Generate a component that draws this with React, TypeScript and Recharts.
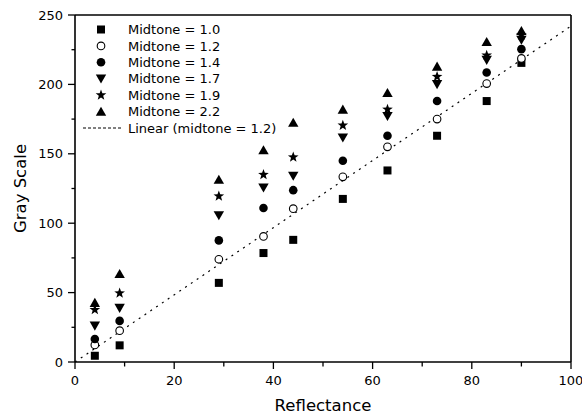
import React from "react"
import { ScatterChart, Scatter, XAxis, YAxis, Legend } from "recharts"

const FONT = "DejaVu Sans, sans-serif"

const reflectance = [4, 9, 29, 38, 44, 54, 63, 73, 83, 90]
const midtone10 = [4.5, 12, 57, 78.5, 88, 117.5, 138, 163, 188, 215.5]
const midtone12 = [12.3, 22.6, 74, 90.5, 110.5, 133.4, 155, 175, 200.6, 218.7]
const midtone14 = [16.6, 29.6, 87.6, 111, 123.8, 145, 163, 188, 208.6, 225.4]
const midtone17 = [26, 38.8, 105.5, 125.5, 134, 161.6, 177, 200, 217.5, 232]
const midtone19 = [37.6, 49.6, 119.5, 135, 147.6, 170.5, 182, 205.6, 221, 235.5]
const midtone22 = [42.8, 63.6, 131.5, 152.7, 172.5, 182, 194, 213, 230.7, 238.7]

const linearX = [0, 100]
const linearY = [0, 242]

const xTicks = [0, 10, 20, 30, 40, 50, 60, 70, 80, 90, 100]
const yTicks = [0, 25, 50, 75, 100, 125, 150, 175, 200, 225, 250]

const toPoints = (ys: number[]) => reflectance.map((x, i) => ({ x, y: ys[i] }))
const linearData = linearX.map((x, i) => ({ x, y: linearY[i] }))

// marker shapes
const Square = ({ cx, cy }: any) => <rect x={cx - 4} y={cy - 4} width={8} height={8} fill="#000" />
const OpenCircle = ({ cx, cy }: any) => (
  <circle cx={cx} cy={cy} r={3.8} fill="#fff" stroke="#000" strokeWidth={1.1} />
)
const Dot = ({ cx, cy }: any) => <circle cx={cx} cy={cy} r={4.3} fill="#000" />
const DownTri = ({ cx, cy }: any) => (
  <polygon points={`${cx - 5.2},${cy - 4.3} ${cx + 5.2},${cy - 4.3} ${cx},${cy + 4.8}`} fill="#000" />
)
const UpTri = ({ cx, cy }: any) => (
  <polygon points={`${cx - 5.2},${cy + 4.3} ${cx + 5.2},${cy + 4.3} ${cx},${cy - 4.8}`} fill="#000" />
)
const Star = ({ cx, cy }: any) => {
  const pts: string[] = []
  for (let i = 0; i < 10; i++) {
    const r = i % 2 === 0 ? 5.6 : 2.3
    const a = -Math.PI / 2 + (i * Math.PI) / 5
    pts.push(`${cx + r * Math.cos(a)},${cy + r * Math.sin(a)}`)
  }
  return <polygon points={pts.join(" ")} fill="#000" />
}
const NoMark = () => <g />

const series = [
  { name: "Midtone = 1.0", data: midtone10, Shape: Square },
  { name: "Midtone = 1.2", data: midtone12, Shape: OpenCircle },
  { name: "Midtone = 1.4", data: midtone14, Shape: Dot },
  { name: "Midtone = 1.7", data: midtone17, Shape: DownTri },
  { name: "Midtone = 1.9", data: midtone19, Shape: Star },
  { name: "Midtone = 2.2", data: midtone22, Shape: UpTri },
]

// ticks: tickSize/tickMargin are 0 so x,y land on the axis line
const BottomTick = ({ x, y, payload }: any) => {
  const major = payload.value % 20 === 0
  return (
    <g>
      <line x1={x} x2={x} y1={y} y2={y + (major ? 7 : 4.5)} stroke="#000" strokeWidth={1.3} />
      {major && (
        <text x={x} y={y + 23} textAnchor="middle" fontSize={13} fontFamily={FONT} fill="#000">
          {payload.value}
        </text>
      )}
    </g>
  )
}
const LeftTick = ({ x, y, payload }: any) => {
  const major = payload.value % 50 === 0
  return (
    <g>
      <line x1={x - (major ? 7 : 3.5)} x2={x} y1={y} y2={y} stroke="#000" strokeWidth={1.3} />
      {major && (
        <text x={x - 12} y={y} dy="0.36em" textAnchor="end" fontSize={13} fontFamily={FONT} fill="#000">
          {payload.value}
        </text>
      )}
    </g>
  )
}
const TopTick = ({ x, y, payload }: any) => {
  const major = payload.value % 20 === 0
  return <line x1={x} x2={x} y1={y} y2={y + (major ? 6 : 4.5)} stroke="#000" strokeWidth={1.3} />
}
const RightTick = ({ x, y, payload }: any) => {
  const major = payload.value % 50 === 0
  return <line x1={x - (major ? 6 : 4)} x2={x} y1={y} y2={y} stroke="#000" strokeWidth={1.3} />
}

const XTitle = ({ viewBox }: any) => (
  <text
    x={viewBox.x + viewBox.width / 2}
    y={viewBox.y + 49}
    textAnchor="middle"
    fontSize={16.5}
    fontFamily={FONT}
    fill="#000"
  >
    Reflectance
  </text>
)
const YTitle = ({ viewBox }: any) => {
  const cx = 20
  const cy = viewBox.y + viewBox.height / 2
  return (
    <text
      x={cx}
      y={cy}
      dy="0.36em"
      transform={`rotate(-90 ${cx} ${cy})`}
      textAnchor="middle"
      fontSize={16.5}
      fontFamily={FONT}
      fill="#000"
    >
      Gray Scale
    </text>
  )
}

const LegendBox = () => (
  <svg width={240} height={122} style={{ display: "block" }}>
    {series.map((s, i) => {
      const cy = 11.5 + i * 16.4
      return (
        <g key={s.name}>
          <s.Shape cx={23} cy={cy} />
          <text x={50} y={cy} dy="0.36em" fontSize={13} fontFamily={FONT} fill="#000">
            {s.name}
          </text>
        </g>
      )
    })}
    <line x1={5} x2={45} y1={110} y2={110} stroke="#000" strokeWidth={1} strokeDasharray="3 2" />
    <text x={50} y={110} dy="0.36em" fontSize={13} fontFamily={FONT} fill="#000">
      Linear (midtone = 1.2)
    </text>
  </svg>
)

export default function App() {
  return (
    <div style={{ position: "absolute", left: 0, top: 0, background: "#fff" }}>
      <ScatterChart width={582} height={416} margin={{ top: 15, right: 11, bottom: 0, left: 0 }}>
        <XAxis
          dataKey="x"
          type="number"
          domain={[0, 100]}
          ticks={xTicks}
          interval={0}
          tickSize={0}
          tickMargin={0}
          tickLine={false}
          tick={BottomTick}
          height={54}
          axisLine={{ stroke: "#000", strokeWidth: 1.6 }}
          label={<XTitle />}
        />
        <XAxis
          xAxisId="top"
          orientation="top"
          mirror
          type="number"
          domain={[0, 100]}
          ticks={xTicks}
          interval={0}
          tickSize={0}
          tickMargin={0}
          tickLine={false}
          tick={TopTick}
          axisLine={{ stroke: "#000", strokeWidth: 1.6 }}
        />
        <YAxis
          dataKey="y"
          type="number"
          domain={[0, 250]}
          ticks={yTicks}
          interval={0}
          tickSize={0}
          tickMargin={0}
          tickLine={false}
          tick={LeftTick}
          width={75}
          axisLine={{ stroke: "#000", strokeWidth: 1.6 }}
          label={<YTitle />}
        />
        <YAxis
          yAxisId="right"
          orientation="right"
          mirror
          type="number"
          domain={[0, 250]}
          ticks={yTicks}
          interval={0}
          tickSize={0}
          tickMargin={0}
          tickLine={false}
          tick={RightTick}
          axisLine={{ stroke: "#000", strokeWidth: 1.6 }}
        />
        <Scatter
          name="Linear (midtone = 1.2)"
          data={linearData}
          line={{ stroke: "#000", strokeWidth: 1.2, strokeDasharray: "2 5" }}
          shape={NoMark}
          isAnimationActive={false}
        />
        {series.map((s) => (
          <Scatter
            key={s.name}
            name={s.name}
            data={toPoints(s.data)}
            shape={s.Shape}
            isAnimationActive={false}
          />
        ))}
        <Legend
          layout="vertical"
          align="center"
          verticalAlign="middle"
          content={LegendBox}
          wrapperStyle={{ position: "absolute", left: 78, top: 18, width: 240, height: 122 }}
        />
      </ScatterChart>
    </div>
  )
}
